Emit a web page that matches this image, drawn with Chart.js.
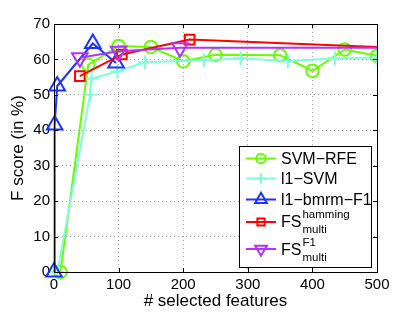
<!DOCTYPE html>
<html>
<head>
<meta charset="utf-8">
<script src="https://cdn.jsdelivr.net/npm/chart.js@4.4.0/dist/chart.umd.min.js"></script>
<style>
  html, body { margin: 0; padding: 0; background: #fff; }
  #wrap { width: 415px; height: 312px; }
</style>
</head>
<body>
<div id="wrap"><canvas id="my-chart"></canvas></div>
<script>
// data
const svmRfeX = [10, 53, 100, 150, 200, 250, 350, 400, 450, 500]
const svmRfeY = [0, 58.5, 63.8, 63.5, 59.5, 61.3, 61.2, 56.8, 62.8, 61]

const l1SvmX = [5, 56, 58, 98, 141, 232, 289, 362, 435, 500]
const l1SvmY = [0, 50, 54.6, 56.6, 59.2, 59.8, 60.3, 59.5, 60.3, 60.5]

const bmrmX = [0, 1, 5, 60, 96]
const bmrmY = [0, 41.5, 52.5, 64.5, 59]

const hammingX = [40, 105, 210, 500]
const hammingY = [55.3, 61.4, 65.6, 63.5]

const f1X = [40, 100, 195, 500]
const f1Y = [60.5, 62.3, 63.3, 63.3]

const xTicks = [0, 100, 200, 300, 400, 500]
const yTicks = [0, 10, 20, 30, 40, 50, 60, 70]

// legend text (main, superscript, subscript)
const seriesNames = ['SVM\u2212RFE', 'l1\u2212SVM', 'l1\u2212bmrm\u2212F1', 'FS', 'FS']
const seriesSup = ['', '', '', 'hamming', 'F1']
const seriesSub = ['', '', '', 'multi', 'multi']

const colors = ['#66ff00', '#7fffd9', '#1a33ff', '#ff0000', '#b033ff']
const markers = ['circle', 'cross', 'triangle', 'rect', 'triangle']
const rotations = [0, 0, 0, 0, 180]
const radii = [6.3, 7, 9, 6.8, 9]

const pts = (xs, ys) => xs.map((x, i) => ({ x: x, y: ys[i] }))
const allX = [svmRfeX, l1SvmX, bmrmX, hammingX, f1X]
const allY = [svmRfeY, l1SvmY, bmrmY, hammingY, f1Y]

const datasets = allX.map((xs, i) => {
  // last point of the FS curves is at the axis limit without a marker
  let r = xs.map(() => radii[i])
  if (i >= 3) r[r.length - 1] = 0
  return {
    label: seriesNames[i] + seriesSup[i] + seriesSub[i],
    data: pts(xs, allY[i]),
    borderColor: colors[i],
    backgroundColor: 'rgba(0,0,0,0)',
    pointBorderColor: colors[i],
    pointBackgroundColor: 'rgba(0,0,0,0)',
    pointStyle: markers[i],
    pointRotation: rotations[i],
    pointRadius: r,
    pointBorderWidth: 2,
    borderWidth: 2,
    tension: 0,
    order: 5 - i,
    clip: { left: 12, top: 12, right: 0, bottom: 12 },
  }
})

// box, inward ticks and the legend
const frame = {
  id: 'frame',
  afterDraw(chart) {
    const { ctx, chartArea: a, scales } = chart
    ctx.save()
    ctx.strokeStyle = '#000'
    ctx.lineWidth = 1
    ctx.beginPath()
    xTicks.forEach(v => {
      const px = Math.round(scales.x.getPixelForValue(v)) + 0.5
      ctx.moveTo(px, a.bottom); ctx.lineTo(px, a.bottom - 4)
      ctx.moveTo(px, a.top); ctx.lineTo(px, a.top + 4)
    })
    yTicks.forEach(v => {
      const py = Math.round(scales.y.getPixelForValue(v)) + 0.5
      ctx.moveTo(a.left, py); ctx.lineTo(a.left + 4, py)
      ctx.moveTo(a.right, py); ctx.lineTo(a.right - 4, py)
    })
    ctx.stroke()
    ctx.strokeRect(Math.round(a.left) + 0.5, Math.round(a.top) + 0.5, Math.round(a.width), Math.round(a.height))

    // legend
    const lx = a.right - 138, ly = a.bottom - 126, lw = 132, lh = 121
    ctx.fillStyle = '#fff'
    ctx.fillRect(lx, ly, lw, lh)
    ctx.strokeRect(lx + 0.5, ly + 0.5, lw, lh)
    const rowY = [12.5, 32.5, 53.5, 76, 103]
    ctx.textBaseline = 'middle'
    ctx.textAlign = 'left'
    rowY.forEach((dy, i) => {
      const y = ly + dy
      ctx.strokeStyle = colors[i]
      ctx.lineWidth = 2
      ctx.beginPath()
      ctx.moveTo(lx + 7, y); ctx.lineTo(lx + 37, y)
      ctx.stroke()
      ctx.fillStyle = 'rgba(0,0,0,0)'
      Chart.helpers.drawPoint(ctx, {
        pointStyle: markers[i], rotation: rotations[i],
        radius: radii[i] * 0.75, borderWidth: 2,
      }, lx + 22, y)
      ctx.fillStyle = '#000'
      ctx.font = '16px "Liberation Sans", Arial, sans-serif'
      const ty = i === 4 ? y + 2 : y + 1
      ctx.fillText(seriesNames[i], lx + 42, ty)
      if (seriesSup[i]) {
        const w = ctx.measureText(seriesNames[i]).width
        ctx.font = '11.5px "Liberation Sans", Arial, sans-serif'
        ctx.fillText(seriesSup[i], lx + 43 + w, ty - 8)
        ctx.fillText(seriesSub[i], lx + 43 + w, ty + 7)
      }
    })
    ctx.restore()
  }
}

const tickFont = { family: '"Liberation Sans", Arial, sans-serif', size: 15 }
const titleFont = { family: '"Liberation Sans", Arial, sans-serif', size: 17 }

const options = {
  responsive: true,
  maintainAspectRatio: false,
  animation: false,
  layout: { padding: { top: 24, right: 38, left: 0, bottom: 0 } },
  plugins: { legend: { display: false }, tooltip: { enabled: false } },
  scales: {
    x: {
      type: 'linear',
      min: 0,
      max: 500,
      afterBuildTicks: (scale) => { scale.ticks = xTicks.map(v => ({ value: v })) },
      afterFit: (scale) => { scale.height = 40 },
      ticks: { color: '#000', font: tickFont, padding: 4, maxRotation: 0 },
      grid: { color: '#a8a8a8', lineWidth: 1, drawTicks: false },
      border: { display: false, dash: [1, 3] },
      title: { display: true, text: '# selected features', color: '#000', font: titleFont, padding: { top: 0, bottom: 0 } },
    },
    y: {
      min: 0,
      max: 70,
      afterBuildTicks: (scale) => { scale.ticks = yTicks.map(v => ({ value: v })) },
      afterFit: (scale) => { scale.width = 54 },
      ticks: { color: '#000', font: tickFont, padding: 4 },
      grid: { color: '#a8a8a8', lineWidth: 1, drawTicks: false },
      border: { display: false, dash: [1, 3] },
      title: { display: true, text: 'F score (in %)', color: '#000', font: titleFont, padding: { top: 8, bottom: 0 } },
    }
  }
}

const ctx = document.getElementById('my-chart').getContext('2d')
const myChart = new Chart(ctx, {
  type: 'line',
  data: { datasets: datasets },
  options: options,
  plugins: [frame],
})
</script>
</body>
</html>
